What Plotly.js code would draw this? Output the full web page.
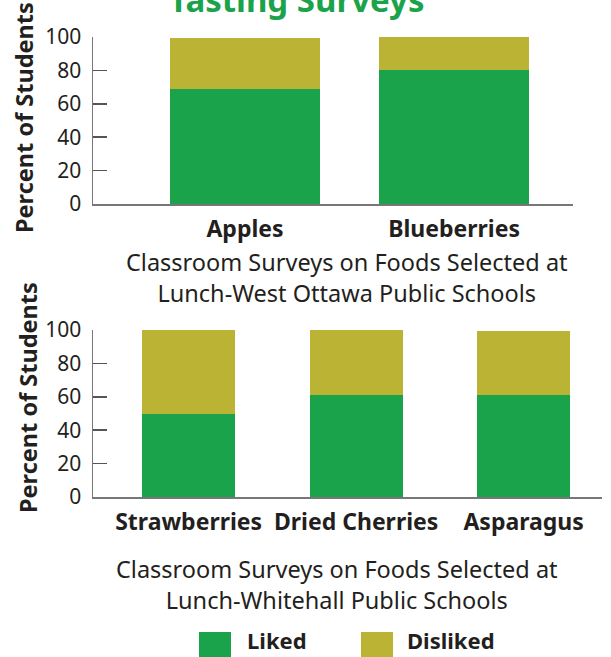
<!DOCTYPE html>
<html>
<head>
<meta charset="utf-8">
<script src="https://cdn.plot.ly/plotly-3.0.1.min.js"></script>
<style>html,body{margin:0;padding:0;background:#fff;}#chart{width:611px;height:657px;}</style>
</head>
<body>
<div id="chart"></div>
<script>
// Data
const westFoods = ["Apples", "Blueberries"];
const westLiked = [69, 80];
const westDisliked = [30.5, 20];

const whitehallFoods = ["Strawberries", "Dried Cherries", "Asparagus"];
const whitehallLiked = [50, 61, 61];
const whitehallDisliked = [50, 39, 38.5];

const yTickVals = [0, 20, 40, 60, 80, 100];
const seriesNames = ["Liked", "Disliked"];

const GREEN = "rgb(26,163,74)";
const OLIVE = "rgb(186,179,51)";
const FONT = "Noto Sans, sans-serif";
const TXT = "#231f20";
const W = 611, H = 657;
const px = v => v / W;
const py = v => 1 - v / H;

const traces = [
  {type: "bar", x: westFoods, y: westLiked, name: seriesNames[0], marker: {color: GREEN}, width: 0.718, xaxis: "x", yaxis: "y", showlegend: false, hoverinfo: "y"},
  {type: "bar", x: westFoods, y: westDisliked, name: seriesNames[1], marker: {color: OLIVE}, width: 0.718, xaxis: "x", yaxis: "y", showlegend: false, hoverinfo: "y"},
  {type: "bar", x: whitehallFoods, y: whitehallLiked, name: seriesNames[0], marker: {color: GREEN}, width: 0.555, xaxis: "x2", yaxis: "y2", showlegend: false, hoverinfo: "y"},
  {type: "bar", x: whitehallFoods, y: whitehallDisliked, name: seriesNames[1], marker: {color: OLIVE}, width: 0.555, xaxis: "x2", yaxis: "y2", showlegend: false, hoverinfo: "y"}
];

const yAxisCommon = {
  range: [0, 100], tickvals: yTickVals, ticks: "inside", ticklen: 14, tickwidth: 1.5, tickcolor: "#555",
  showline: true, linecolor: "#777", linewidth: 1.5, showgrid: false, zeroline: false,
  tickfont: {family: FONT, size: 21, color: TXT}, ticklabelstandoff: 6, fixedrange: true
};
const xAxisCommon = {
  type: "category", showline: true, linecolor: "#777", linewidth: 1.5, ticks: "", showgrid: false,
  tickfont: {family: FONT, size: 23, color: TXT, weight: "bold"}, ticklabelstandoff: 4, fixedrange: true
};

const layout = {
  width: W, height: H,
  margin: {l: 0, r: 0, t: 0, b: 0},
  paper_bgcolor: "#fff", plot_bgcolor: "#fff",
  barmode: "stack",
  showlegend: false,
  xaxis: Object.assign({}, xAxisCommon, {domain: [px(93), px(573)], range: [-0.727, 1.569], anchor: "y"}),
  yaxis: Object.assign({}, yAxisCommon, {domain: [py(204), py(37)], anchor: "x"}),
  xaxis2: Object.assign({}, xAxisCommon, {domain: [px(93), px(602)], range: [-0.571, 2.468], anchor: "y2"}),
  yaxis2: Object.assign({}, yAxisCommon, {domain: [py(497), py(330)], anchor: "x2"}),
  shapes: [
    {type: "rect", xref: "paper", yref: "paper", x0: px(199), x1: px(231), y0: py(664), y1: py(632), fillcolor: GREEN, line: {width: 0}},
    {type: "rect", xref: "paper", yref: "paper", x0: px(361), x1: px(393), y0: py(664), y1: py(632), fillcolor: OLIVE, line: {width: 0}}
  ],
  annotations: [
    {text: "<b>Tasting Surveys</b>", xref: "paper", yref: "paper", x: px(297), y: py(24), xanchor: "center", yanchor: "bottom", showarrow: false, font: {family: FONT, size: 33, color: GREEN}},
    {text: "<b>Percent of Students</b>", xref: "paper", yref: "paper", x: px(24), y: py(118), xanchor: "center", yanchor: "middle", textangle: -90, showarrow: false, font: {family: FONT, size: 23.5, color: TXT}},
    {text: "<b>Percent of Students</b>", xref: "paper", yref: "paper", x: px(28), y: py(398), xanchor: "center", yanchor: "middle", textangle: -90, showarrow: false, font: {family: FONT, size: 23.5, color: TXT}},
    {text: "Classroom Surveys on Foods Selected at<br>Lunch-West Ottawa Public Schools", xref: "paper", yref: "paper", x: px(347), y: py(277), xanchor: "center", yanchor: "middle", showarrow: false, font: {family: FONT, size: 23.5, color: TXT}},
    {text: "Classroom Surveys on Foods Selected at<br>Lunch-Whitehall Public Schools", xref: "paper", yref: "paper", x: px(337), y: py(584), xanchor: "center", yanchor: "middle", showarrow: false, font: {family: FONT, size: 23.5, color: TXT}},
    {text: "<b>" + seriesNames[0] + "</b>", xref: "paper", yref: "paper", x: px(245), y: py(657), xanchor: "left", yanchor: "bottom", showarrow: false, font: {family: FONT, size: 22, color: TXT}},
    {text: "<b>" + seriesNames[1] + "</b>", xref: "paper", yref: "paper", x: px(405), y: py(657), xanchor: "left", yanchor: "bottom", showarrow: false, font: {family: FONT, size: 22, color: TXT}}
  ]
};

Plotly.newPlot("chart", traces, layout, {displayModeBar: false, staticPlot: true});
</script>
</body>
</html>
